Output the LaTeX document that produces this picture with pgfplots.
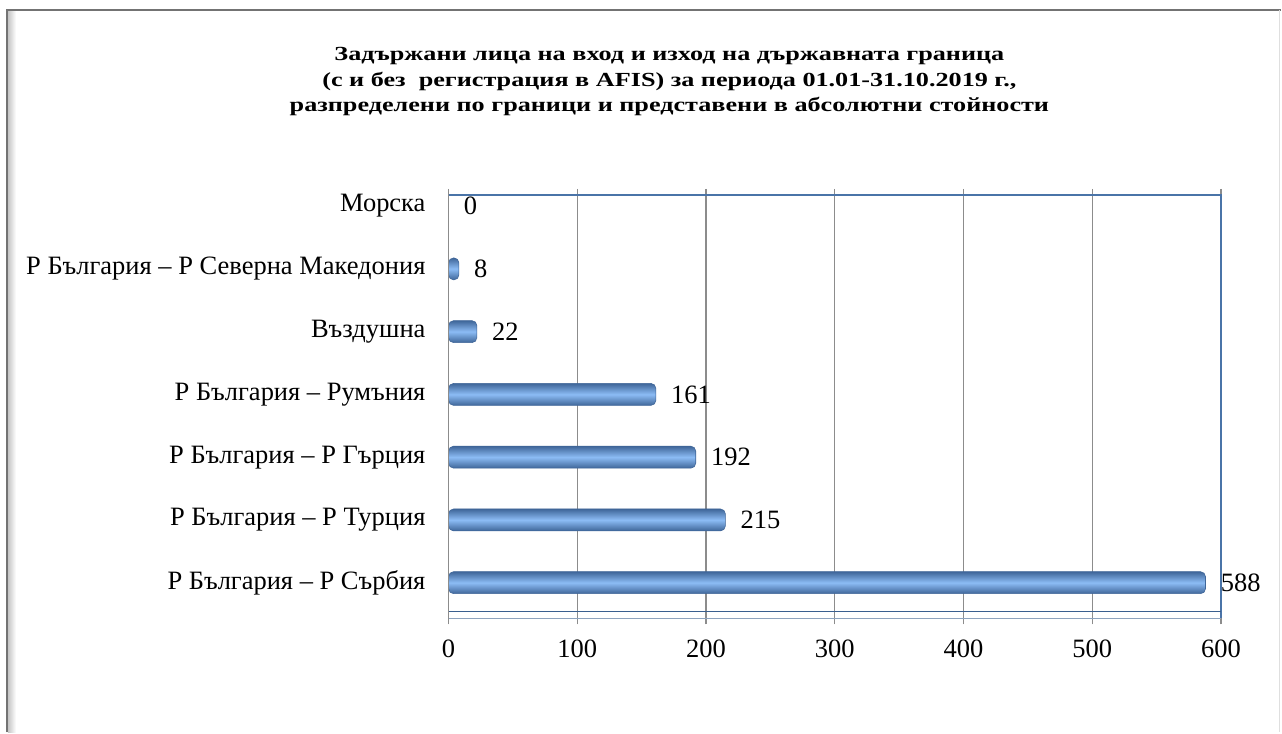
\documentclass[border=0pt]{standalone}
\usepackage{pgfplots}
\pgfplotsset{compat=1.18}
\usepackage{graphicx}
\usepackage{fontspec}
\setmainfont{Liberation Serif}[BoldFont={Liberation Serif Bold}]
\definecolor{bardark}{HTML}{3F6699}
\definecolor{barlight}{HTML}{8CBCF5}
\definecolor{axblue}{HTML}{4A74A8}
\definecolor{floorblue}{HTML}{3A5F8F}
\definecolor{floorgray}{HTML}{8EA3BE}
\definecolor{gridgray}{HTML}{8C8C8C}
\pgfplotsset{cyl/.style={xbar, bar shift=0pt, draw=bardark, line width=0.6bp, rounded corners=5bp,
  top color=bardark, bottom color=bardark, middle color=barlight}}
\begin{document}
\begin{tikzpicture}[x=1bp,y=1bp]
% page frame
\path[fill=white] (0,0) rectangle (1282,733);
\fill[left color=gray!45, right color=white] (8,0) rectangle (16,722);
\draw[color=gray!90!black, line width=2.2bp] (7,0) -- (7,723) -- (1282,723);
\draw[color=gray!25, line width=1bp] (1281,723) -- (1281,0);
\node[align=center] at (670,652)
 {\scalebox{1.31}[1]{\fontsize{20bp}{25.5bp}\selectfont\bfseries
  \begin{tabular}{@{}c@{}}
  Задържани лица на вход и изход на държавната граница\\
  (с и без\ \ регистрация в AFIS) за периода 01.01-31.10.2019 г.,\\
  разпределени по граници и представени в абсолютни стойности
  \end{tabular}}};
\begin{axis}[
  at={(449bp,114bp)}, anchor=south west,
  width=773bp, height=424bp, scale only axis,
  xmin=0, xmax=600, ymin=-0.57, ymax=6.18,
  xtick={0,100,...,600},
  ytick={0,1,2,3,4,5,6},
  yticklabels={Р България – Р Сърбия, Р България – Р Турция, Р България – Р Гърция, Р България – Румъния, Въздушна, Р България – Р Северна Македония, Морска},
  axis line style={draw=none},
  xmajorgrids, major grid style={gridgray, line width=1.4bp},
  tick align=outside, major tick length=6bp,
  xtick style={gridgray, line width=1.2bp},
  ytick style={draw=none},
  /pgf/number format/assume math mode=true,
  tick label style={font=\fontsize{26.5bp}{30bp}\selectfont, inner sep=0pt},
  yticklabel style={xshift=-17bp},
  xticklabel style={yshift=-15bp},
  clip=false,
  xbar, bar width=22bp,
  nodes near coords,
  every node near coord/.append style={font=\fontsize{26.5bp}{30bp}\selectfont, anchor=west, xshift=15bp, inner sep=0pt, draw=none, shade=false, fill=none},
]
\addplot[cyl] coordinates {(588,0)};
\addplot[cyl] coordinates {(215,1)};
\addplot[cyl] coordinates {(192,2)};
\addplot[cyl] coordinates {(161,3)};
\addplot[cyl] coordinates {(22,4)};
\addplot[cyl] coordinates {(8,5)};
\addplot[cyl, draw=none] coordinates {(0,6)};
\draw[axblue, line width=1.4bp] (rel axis cs:0,1) -- (rel axis cs:1,1) -- (rel axis cs:1,0);
\draw[floorblue, line width=1.6bp] (axis cs:0,-0.46) -- (axis cs:600,-0.46);
\draw[floorgray, line width=1.4bp] (axis cs:0,-0.57) -- (axis cs:600,-0.57);
\draw[gridgray, line width=1.4bp] (rel axis cs:0,0) -- (rel axis cs:0,1);
\end{axis}
\end{tikzpicture}
\end{document}
